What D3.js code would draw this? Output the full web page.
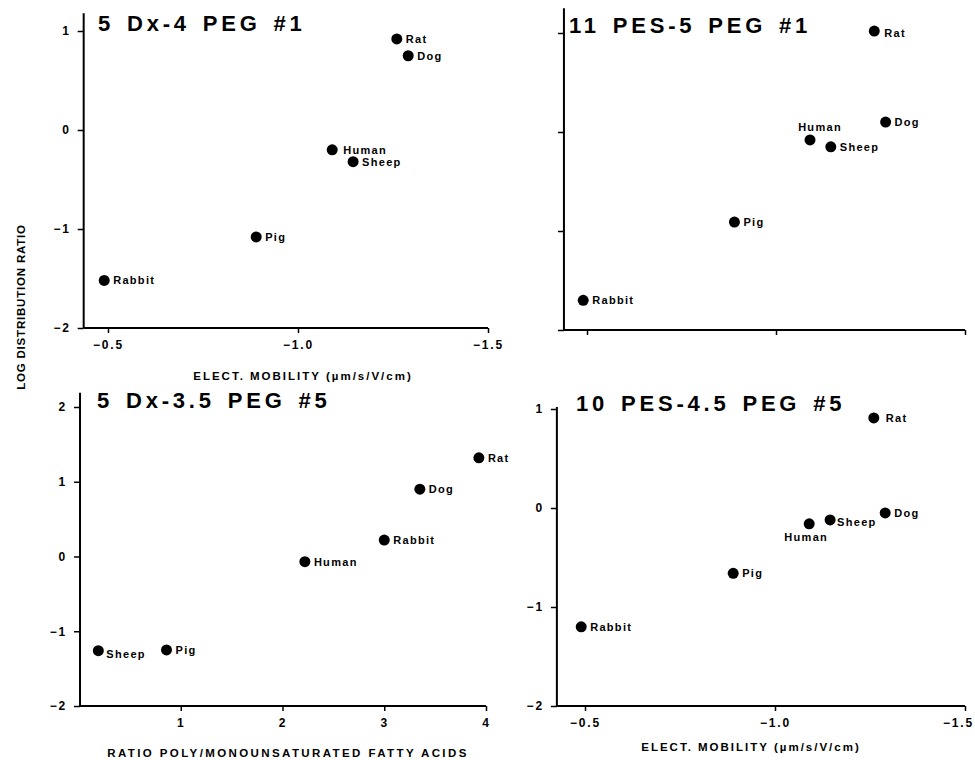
<!DOCTYPE html>
<html>
<head>
<meta charset="utf-8">
<script src="https://cdn.jsdelivr.net/npm/d3@7"></script>
<style>
  body { margin: 0; background: #fff; }
  svg text { font-family: 'Liberation Sans', Arial, sans-serif; fill: #000; }
</style>
</head>
<body>
<svg id="chart" width="975" height="760"></svg>
<script>
// Species, same order everywhere
const species = ['Rat', 'Dog', 'Human', 'Sheep', 'Pig', 'Rabbit'];

// Electrophoretic mobility (um/s/V/cm) of each species' cells
const mobility = [-1.26, -1.29, -1.09, -1.145, -0.89, -0.49];
// Poly / monounsaturated fatty acid ratio
const fattyRatio = [3.93, 3.35, 2.22, 0.19, 0.86, 3.0];

// Log distribution ratio for each phase system
const logRatioDx4 = [0.92, 0.75, -0.20, -0.32, -1.08, -1.52];
const logRatioPes5 = [1.02, 0.10, -0.08, -0.15, -0.91, -1.70];
const logRatioDx35 = [1.32, 0.90, -0.07, -1.26, -1.25, 0.22];
const logRatioPes45 = [0.91, -0.05, -0.16, -0.12, -0.66, -1.20];

const titles = ['5 Dx-4 PEG #1', '11 PES-5 PEG #1', '5 Dx-3.5 PEG #5', '10 PES-4.5 PEG #5'];
const mobilityTicks = [-0.5, -1.0, -1.5];
const fattyTicks = [1, 2, 3, 4];
const logTicks3 = [-2, -1, 0, 1];
const logTicks4 = [-2, -1, 0, 1, 2];

const mobilityLabel = 'ELECT. MOBILITY (\u00b5m/s/V/cm)';
const fattyLabel = 'RATIO POLY/MONOUNSATURATED FATTY ACIDS';
const yLabel = 'LOG DISTRIBUTION RATIO';

const svg = d3.select('#chart');

const fmtMobility = d3.format('.1f');
const fmtInt = d3.format('d');

// Panel frames (pixel layout)
const panels = [
  {
    title: titles[0], xs: mobility, ys: logRatioDx4,
    xDomain: [-0.5, -1.5], xRange: [108, 488], xMin: -0.436,
    yDomain: [-2, 1], yRange: [328, 31], yTop: 1.18,
    xTicks: mobilityTicks, yTicks: logTicks3, labels: true, xFmt: fmtMobility,
    titlePos: [98, 31], xLabel: mobilityLabel, xLabelPos: [303, 380],
    offsets: { Human: [11, 4] }
  },
  {
    title: titles[1], xs: mobility, ys: logRatioPes5,
    xDomain: [-0.5, -1.5], xRange: [587, 965], xMin: -0.439,
    yDomain: [-2, 1], yRange: [330, 33], yTop: 1.25,
    xTicks: mobilityTicks, yTicks: logTicks3, labels: false,
    titlePos: [569, 33],
    offsets: { Human: [10, -9, 'middle'], Rat: [10, 6] }
  },
  {
    title: titles[2], xs: fattyRatio, ys: logRatioDx35,
    xDomain: [0, 4], xRange: [79, 486], xMin: 0.01,
    yDomain: [-2, 2], yRange: [706, 407], yTop: 2.19,
    xTicks: fattyTicks, yTicks: logTicks4, labels: true, xFmt: fmtInt,
    titlePos: [97, 408], xLabel: fattyLabel, xLabelPos: [288, 757],
    offsets: { Sheep: [8, 7] }
  },
  {
    title: titles[3], xs: mobility, ys: logRatioPes45,
    xDomain: [-0.5, -1.5], xRange: [585, 965], xMin: -0.426,
    yDomain: [-2, 1], yRange: [706, 409], yTop: 1.02,
    xTicks: mobilityTicks, yTicks: logTicks3, labels: true, xFmt: fmtMobility,
    titlePos: [576, 411], xLabel: mobilityLabel, xLabelPos: [751, 751],
    offsets: { Human: [-3, 17, 'middle'], Rat: [12, 4], Sheep: [7, 6] },
    edgeShift: -7
  }
];

panels.forEach(p => {
  const x = d3.scaleLinear().domain(p.xDomain).range(p.xRange);
  const y = d3.scaleLinear().domain(p.yDomain).range(p.yRange);
  const g = svg.append('g');
  const x0 = x(p.xMin);
  const yBottom = y(p.yDomain[0]);

  // x axis
  const xAxis = g.append('g')
    .attr('transform', `translate(0,${yBottom})`)
    .call(d3.axisBottom(x)
      .tickValues(p.xTicks)
      .tickSize(5)
      .tickPadding(7)
      .tickFormat(p.labels ? p.xFmt : ''));
  xAxis.select('.domain').remove();
  // keep the last label inside the page
  if (p.edgeShift) {
    xAxis.selectAll('.tick').filter(d => d === p.xDomain[1])
      .select('text').attr('dx', p.edgeShift);
  }

  // y axis
  const yAxis = g.append('g')
    .attr('transform', `translate(${x0},0)`)
    .call(d3.axisLeft(y)
      .tickValues(p.yTicks)
      .tickSize(6)
      .tickPadding(7)
      .tickFormat(p.labels ? fmtInt : ''));
  yAxis.select('.domain').remove();

  g.selectAll('.tick line').attr('stroke', '#000').attr('stroke-width', 1.5);
  g.selectAll('.tick text')
    .style('font-size', '12px')
    .style('font-weight', 'bold')
    .style('letter-spacing', '1.8px');

  // axis lines
  g.append('line')
    .attr('x1', x0).attr('x2', x(p.xDomain[1]))
    .attr('y1', yBottom).attr('y2', yBottom)
    .attr('stroke', '#000').attr('stroke-width', 2);
  g.append('line')
    .attr('x1', x0).attr('x2', x0)
    .attr('y1', yBottom).attr('y2', y(p.yTop))
    .attr('stroke', '#000').attr('stroke-width', 2);

  // title
  g.append('text')
    .attr('x', p.titlePos[0]).attr('y', p.titlePos[1])
    .style('font-size', '22px')
    .style('font-weight', 'bold')
    .style('letter-spacing', '3.8px')
    .style('word-spacing', '3px')
    .text(p.title);

  // points
  const pts = species.map((s, i) => ({ name: s, vx: p.xs[i], vy: p.ys[i] }));
  g.selectAll('.dot')
    .data(pts)
    .enter()
    .append('circle')
    .attr('class', 'dot')
    .attr('cx', d => x(d.vx))
    .attr('cy', d => y(d.vy))
    .attr('r', 5.5)
    .attr('fill', '#000');

  g.selectAll('.lbl')
    .data(pts)
    .enter()
    .append('text')
    .attr('class', 'lbl')
    .attr('x', d => x(d.vx) + (p.offsets[d.name] ? p.offsets[d.name][0] : 9))
    .attr('y', d => y(d.vy) + (p.offsets[d.name] ? p.offsets[d.name][1] : 4))
    .attr('text-anchor', d => (p.offsets[d.name] && p.offsets[d.name][2]) || 'start')
    .style('font-size', '11px')
    .style('font-weight', 'bold')
    .style('letter-spacing', '1.3px')
    .text(d => d.name);

  // x axis title
  if (p.xLabel) {
    g.append('text')
      .attr('x', p.xLabelPos[0]).attr('y', p.xLabelPos[1])
      .attr('text-anchor', 'middle')
      .style('font-size', '11.5px')
      .style('font-weight', 'bold')
      .style('letter-spacing', p.xLabel === fattyLabel ? '2.4px' : '2px')
      .text(p.xLabel);
  }
});

// shared y axis title
svg.append('text')
  .attr('transform', 'translate(25,307) rotate(-90)')
  .attr('text-anchor', 'middle')
  .style('font-size', '11.5px')
  .style('font-weight', 'bold')
  .style('letter-spacing', '0.8px')
  .text(yLabel);
</script>
</body>
</html>
